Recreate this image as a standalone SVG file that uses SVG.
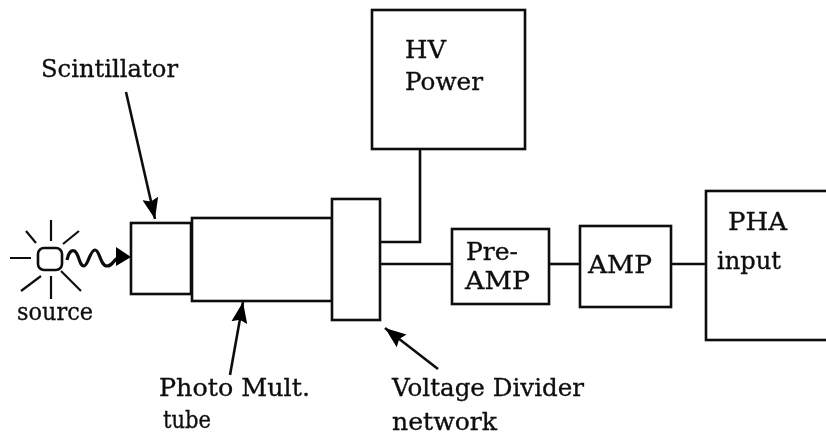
<svg xmlns="http://www.w3.org/2000/svg" width="826" height="435" viewBox="0 0 826 435">
<defs>
<marker id="a" markerWidth="24" markerHeight="18" refX="21" refY="9" orient="auto" markerUnits="userSpaceOnUse"><path d="M0 1L21 9L0 17L3 9z" fill="#000"/></marker>
<filter id="s" filterUnits="userSpaceOnUse" x="0" y="0" width="826" height="435"><feGaussianBlur stdDeviation="0.55"/></filter>
</defs>
<style>.b{fill:#fff;stroke:#111;stroke-width:2.6}.l{fill:none;stroke:#111;stroke-width:2.6}.r{fill:none;stroke:#111;stroke-width:2.2}.t{font-family:"DejaVu Serif","Liberation Serif",serif;font-size:25px;fill:#111;stroke:#111;stroke-width:.35}</style>
<rect width="826" height="435" fill="#fff"/>
<g filter="url(#s)">
<g id="connectors">
<path class="l" d="M380 242H420V149"/><path class="l" d="M380 264H452"/><path class="l" d="M549 264H580"/><path class="l" d="M671 264H706"/>
<path class="l" d="M126 92L155 219" marker-end="url(#a)"/>
<path class="l" d="M230 375L243 302" marker-end="url(#a)"/>
<path class="l" d="M438 369L385 328" marker-end="url(#a)"/>
<path d="M67 260C69 250 74 248 77 254S80 266 84 266S90 250 95 250S100 266 107 266S113 258 120 257" fill="none" stroke="#111" stroke-width="3.2"/>
<path d="M116 247L131 257L116 266z" fill="#000"/>
</g>
<g id="source"><rect class="b" x="38" y="248" width="24" height="22" rx="6"/><path class="r" d="M10 258H31M51 220V241M51 276V299M26 231L36 243M79 231L63 244M21 291L41 276M81 291L61 271"/><text class="t" x="17" y="320" textLength="76" lengthAdjust="spacingAndGlyphs">source</text></g>
<g id="scintillator"><rect class="b" x="131" y="223" width="60" height="71"/><text class="t" x="41" y="77" textLength="137" lengthAdjust="spacingAndGlyphs">Scintillator</text></g>
<g id="pmt"><rect class="b" x="192" y="218" width="140" height="83"/><text class="t" x="159" y="396" textLength="151" lengthAdjust="spacingAndGlyphs">Photo Mult.</text><text class="t" x="163" y="428" textLength="48" lengthAdjust="spacingAndGlyphs">tube</text></g>
<g id="divider"><rect class="b" x="332" y="199" width="48" height="121"/><text class="t" x="392" y="396" textLength="192" lengthAdjust="spacingAndGlyphs">Voltage Divider</text><text class="t" x="392" y="430" textLength="105" lengthAdjust="spacingAndGlyphs">network</text></g>
<g id="hv"><rect class="b" x="372" y="10" width="153" height="139"/><text class="t" x="405" y="58" textLength="41" lengthAdjust="spacingAndGlyphs">HV</text><text class="t" x="405" y="90" textLength="78" lengthAdjust="spacingAndGlyphs">Power</text></g>
<g id="preamp"><rect class="b" x="452" y="229" width="97" height="75"/><text class="t" x="466" y="260" textLength="52" lengthAdjust="spacingAndGlyphs">Pre-</text><text class="t" x="465" y="289" textLength="65" lengthAdjust="spacingAndGlyphs">AMP</text></g>
<g id="amp"><rect class="b" x="580" y="226" width="91" height="81"/><text class="t" x="588" y="273" textLength="64" lengthAdjust="spacingAndGlyphs">AMP</text></g>
<g id="pha"><rect class="b" x="706" y="191" width="130" height="149"/><text class="t" x="728" y="230" textLength="59" lengthAdjust="spacingAndGlyphs">PHA</text><text class="t" x="717" y="269" textLength="64" lengthAdjust="spacingAndGlyphs">input</text></g>
</g>
</svg>
